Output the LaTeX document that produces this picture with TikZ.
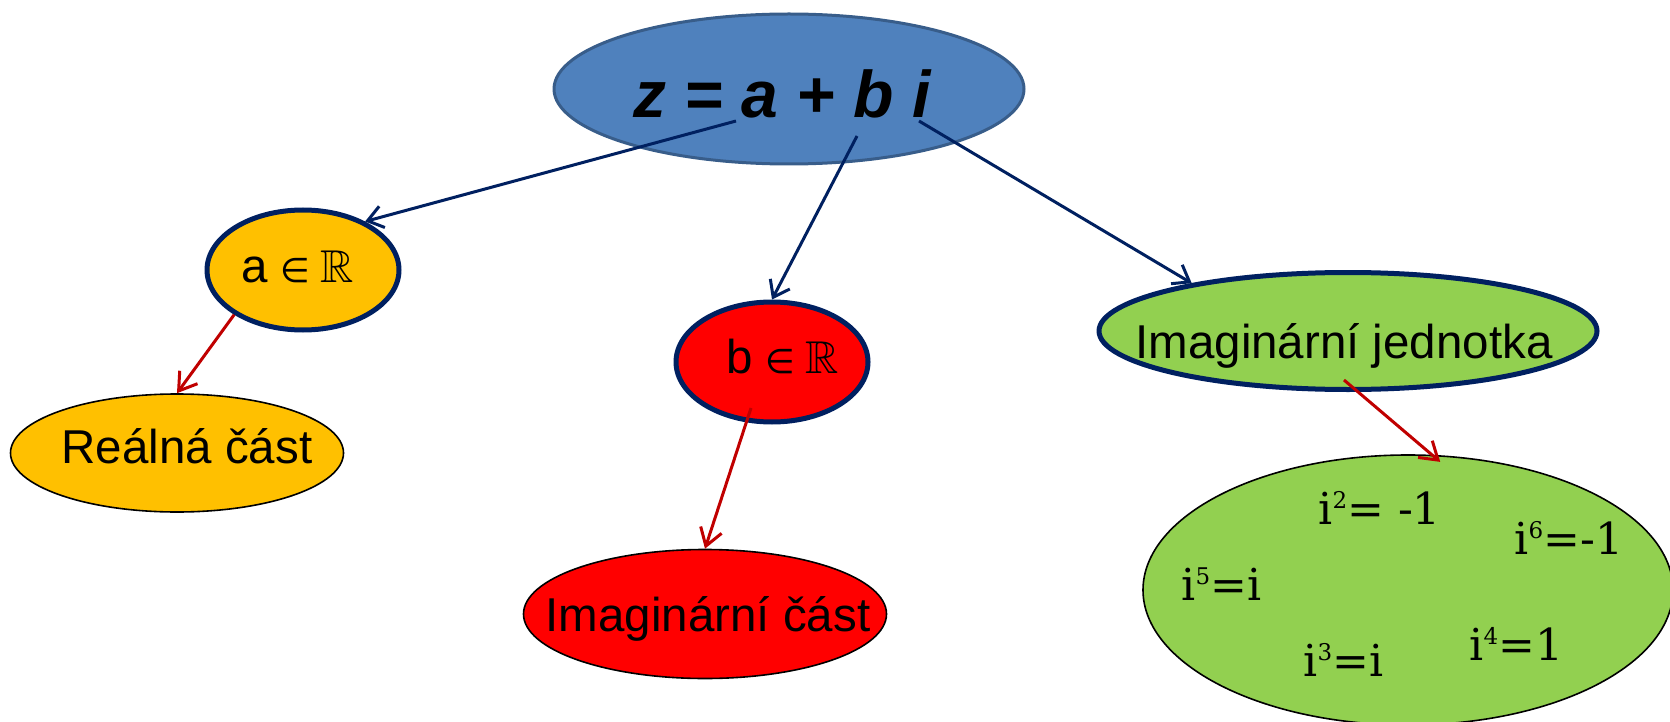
\documentclass[tikz,border=0pt]{standalone}
\usepackage{amssymb}
\usepackage{graphicx}
\usepackage{fontspec}
\setmainfont{Liberation Sans}
\newfontfamily\powfont{DejaVu Serif}
\newfontfamily\symfont{DejaVu Sans}
\usetikzlibrary{shapes.geometric,arrows.meta}

\definecolor{topfill}{HTML}{4F81BD}
\definecolor{topline}{HTML}{385D8A}
\definecolor{navy}{HTML}{002060}
\definecolor{gold}{HTML}{FFC000}
\definecolor{leaf}{HTML}{92D050}
\definecolor{darkred}{HTML}{C00000}

% power of i with a raised small exponent
\newcommand\ipow[2]{i\raisebox{16pt}{\fontsize{23}{23}\selectfont #1}#2}
% "x in R" label
\newcommand\inR[1]{#1\hspace{12pt}{\symfont\fontsize{34}{34}\selectfont ∈}\hspace{11pt}{\normalsize\scalebox{4.6}{$\mathbb{R}$}}}

\begin{document}
\begin{tikzpicture}[x=1pt,y=-1pt,
  oval/.style={ellipse, inner sep=0pt},
  thickrim/.style={draw=navy, line width=5pt},
  thinrim/.style={draw=black, line width=1.6pt},
  txt/.style={anchor=base, font=\fontsize{47.5}{52}\selectfont},
  powtxt/.style={anchor=base west, font=\powfont\fontsize{44}{50}\selectfont},
  bluearrow/.style={navy, line width=3pt, -{Straight Barb[length=15pt,width=22pt]}},
  redarrow/.style={darkred, line width=3pt, -{Straight Barb[length=17pt,width=22pt]}}]

\useasboundingbox (0,0) rectangle (1670,722);

% ellipses
\node[oval, draw=topline, line width=3pt, fill=topfill,
      minimum width=470pt, minimum height=150pt] (z) at (789,89) {};
\node[oval, thickrim, fill=gold, minimum width=192pt, minimum height=120pt] (ya) at (303,270) {};
\node[oval, thickrim, fill=red, minimum width=192pt, minimum height=120pt] (rb) at (772,362) {};
\node[oval, thickrim, fill=leaf, minimum width=498pt, minimum height=117pt] (gj) at (1348,331) {};
\node[oval, thinrim, fill=gold, minimum width=333pt, minimum height=118pt] (re) at (177,453) {};
\node[oval, thinrim, fill=red, minimum width=363pt, minimum height=129pt] (ic) at (705,614) {};
\node[oval, thinrim, fill=leaf, minimum width=530pt, minimum height=270pt] (ge) at (1408,590) {};

% texts
\node[anchor=base, font=\fontsize{66}{70}\selectfont\bfseries\itshape] (zt) at (782,118) {z = a + b i};
\node[txt] (yt) at (298,282) {\inR{a}};
\node[txt] (rt) at (783,373) {\inR{b}};
\node[txt] (gt) at (1344,358) {Imaginární jednotka};
\node[txt] (ret) at (187,463) {Reálná část};
\node[txt] (ict) at (708,631) {Imaginární část};

\node[powtxt] (p2) at (1315,524) {\ipow{2}{= -1}};
\node[powtxt] (p6) at (1511,554) {\ipow{6}{=-1}};
\node[powtxt] (p5) at (1178,600) {\ipow{5}{=i}};
\node[powtxt] (p3) at (1300,676) {\ipow{3}{=i}};
\node[powtxt] (p4) at (1466,660) {\ipow{4}{=1}};

% connector start points inside the parent shapes
\coordinate (za) at (736,121);
\coordinate (zb) at (857,136);
\coordinate (zi) at (919,121);
\coordinate (bs) at (751,408);
\coordinate (js) at (1344,380);

% connectors
\draw[bluearrow] (za) -- (ya.38);
\draw[bluearrow] (zb) -- (rb.north);
\draw[bluearrow] (zi) -- (gj.163);
\draw[redarrow] (ya.213) -- (re.north);
\draw[redarrow] (bs) -- (ic.north);
\draw[redarrow, shorten >=-11pt] (js) -- (ge.80);
\end{tikzpicture}
\end{document}
